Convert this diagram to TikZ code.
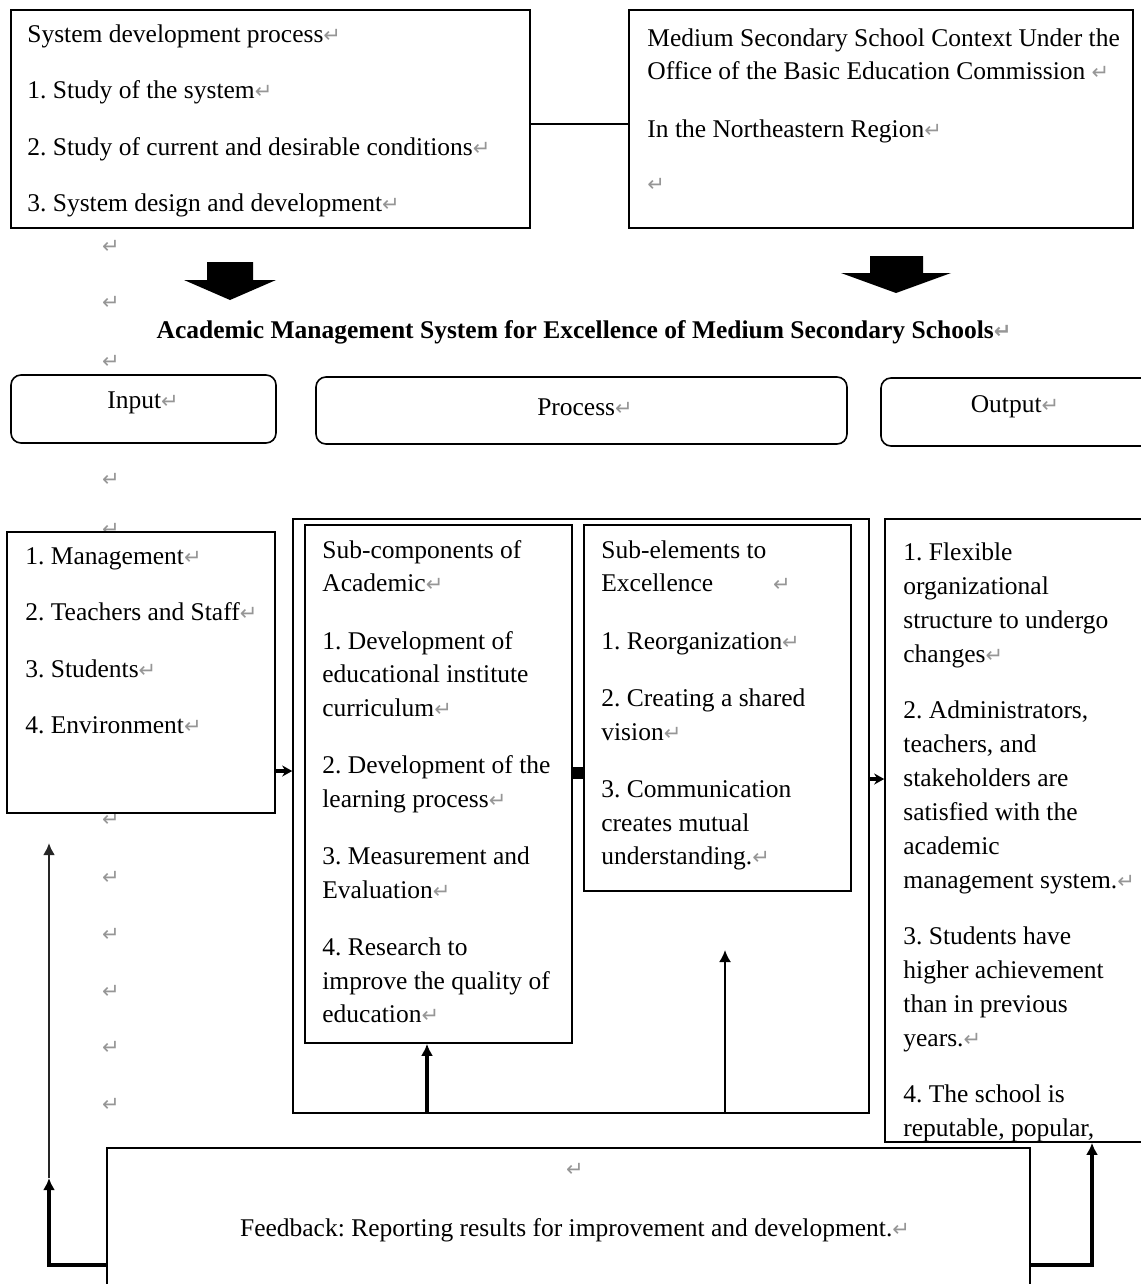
\documentclass[tikz,border=0pt]{standalone}
\usepackage{fontspec}
\setmainfont{Liberation Serif}
\newfontfamily\markfont{DejaVu Sans}
\usetikzlibrary{arrows.meta,fit}

\definecolor{markgray}{RGB}{150,150,150}
\newcommand{\pmark}{{\markfont\fontsize{10.5}{10.5}\selectfont\color{markgray}↵}}
\newcommand{\bodyfont}{\frenchspacing\fontsize{12.75}{16.75}\selectfont}
\newcommand{\outfont}{\frenchspacing\fontsize{12.75}{17}\selectfont}

\begin{document}
\begin{tikzpicture}[x=0.5pt, y=-0.5pt,
    box/.style={draw, line width=0.8pt, fill=white, inner sep=0pt},
    rbox/.style={draw, line width=0.8pt, fill=white, rounded corners=5pt, inner sep=0pt},
    txt/.style={anchor=north west, align=left, inner sep=0pt, font=\bodyfont},
    lbl/.style={inner sep=0pt, font=\bodyfont},
    pmk/.style={inner sep=0pt},
    tiny/.style={-{Stealth[length=5pt,width=5.5pt]}, line width=2pt},
    up/.style={-{Latex[length=6pt,width=6pt]}},
    fbline/.style={line width=2pt}
]
\useasboundingbox (0,0) rectangle (1140,1284);

% --- paragraph marks down the left side ---
\foreach \y in {247,303,362,480,530,820,878,935,992,1048,1105}
    \node[pmk] (pm\y) at (111,\y) {\pmark};

% --- top boxes ---
\node[box, fit={(11,10) (530,228)}] (sysdev) {};
\node[txt] (sysdevtxt) at (27,24) {System development process\pmark\\[11.5pt]
    1. Study of the system\pmark\\[11.5pt]
    2. Study of current and desirable conditions\pmark\\[11.5pt]
    3. System design and development\pmark};

\node[box, fit={(629,10) (1133,228)}] (context) {};
\node[txt] (contexttxt) at (647,28) {Medium Secondary School Context Under the\\
    Office of the Basic Education Commission \pmark\\[12pt]
    In the Northeastern Region\pmark\\[10.5pt]
    \pmark};

\draw[line width=1.2pt] (sysdev.east |- 0,124) -- (context.west |- 0,124);

% --- block arrows ---
\fill (207,262) -- (253,262) -- (253,280) -- (276,280) -- (230,300) -- (184,280) -- (207,280) -- cycle;
\fill (870,256) -- (923,256) -- (923,273) -- (951,273) -- (896,293) -- (841,273) -- (870,273) -- cycle;

\node[lbl, font=\bodyfont\bfseries] (title) at (584,332)
    {Academic Management System for Excellence of Medium Secondary Schools\pmark};

% --- Input / Process / Output headers ---
\node[rbox, fit={(11,375) (276,443)}] (inhead) {};
\node[lbl] (inheadtxt) at (143,403) {Input\pmark};
\node[rbox, fit={(316,377) (847,444)}] (prochead) {};
\node[lbl] (procheadtxt) at (585,407) {Process\pmark};
\node[rbox, fit={(881,378) (1160,446)}] (outhead) {};
\node[lbl] (outheadtxt) at (1015,407) {Output\pmark};

% --- input ---
\node[box, fit={(7,532) (275,813)}] (inputs) {};
\node[txt] (inputstxt) at (25,547) {1. Management\pmark\\[11.5pt]
    2. Teachers and Staff\pmark\\[11.5pt]
    3. Students\pmark\\[11.5pt]
    4. Environment\pmark};

% --- process ---
\node[box, fit={(293,519) (869,1113)}] (procbox) {};
\node[box, fit={(305,525) (572,1043)}] (subcomp) {};
\node[txt] (subcomptxt) at (322,540) {Sub-components of\\
    Academic\pmark\\[12pt]
    1. Development of\\ educational institute\\ curriculum\pmark\\[12pt]
    2. Development of the\\ learning process\pmark\\[12pt]
    3. Measurement and\\ Evaluation\pmark\\[12pt]
    4. Research to\\ improve the quality of\\ education\pmark};
\node[box, fit={(584,525) (851,891)}] (subelem) {};
\node[txt] (subelemtxt) at (601,540) {Sub-elements to\\
    Excellence\hspace{30pt}\pmark\\[12pt]
    1. Reorganization\pmark\\[12pt]
    2. Creating a shared\\ vision\pmark\\[12pt]
    3. Communication\\ creates mutual\\ understanding.\pmark};
\fill (573,767) rectangle (585,779);

% --- output ---
\node[box, fit={(885,519) (1150,1142)}] (outputs) {};
\begin{scope}
    \clip (885,519) rectangle (1150,1141);
    \node[txt, font=\outfont] (outputstxt) at (903,542) {1. Flexible\\ organizational\\ structure to undergo\\ changes\pmark\\[11pt]
        2. Administrators,\\ teachers, and\\ stakeholders are\\ satisfied with the\\ academic\\ management system.\pmark\\[11pt]
        3. Students have\\ higher achievement\\ than in previous\\ years.\pmark\\[11pt]
        4. The school is\\ reputable, popular,};
\end{scope}

\draw[tiny] (inputs.east |- 0,771) -- (procbox.west |- 0,771);
\draw[tiny] (procbox.east |- 0,779) -- (outputs.west |- 0,779);

\draw[up, line width=2pt] (427,0 |- procbox.south) -- (427,0 |- subcomp.south);
\coordinate (elemtip) at (725,950);
\draw[up, line width=1pt] (725,0 |- procbox.south) -- (elemtip);

% --- feedback ---
\node[box, fit={(107,1148) (1030,1300)}] (feedback) {};
\node[pmk] (fbmark) at (575,1170) {\pmark};
\node[lbl] (feedbacktxt) at (575,1230) {Feedback: Reporting results for improvement and development.\pmark};

\coordinate (fbleft) at (49,1265);
\coordinate (fbmid) at (49,1178);
\coordinate (fbtop) at (49,843);
\coordinate (fbright) at (1092,1265);
\draw[fbline, up] (feedback.west |- fbleft) -- (fbleft) -- (fbmid);
\draw[up, line width=1.2pt, black!85] (fbmid) -- (fbtop);
\draw[fbline, up] (feedback.east |- fbright) -- (fbright) -- (fbright |- outputs.south);

\end{tikzpicture}
\end{document}
